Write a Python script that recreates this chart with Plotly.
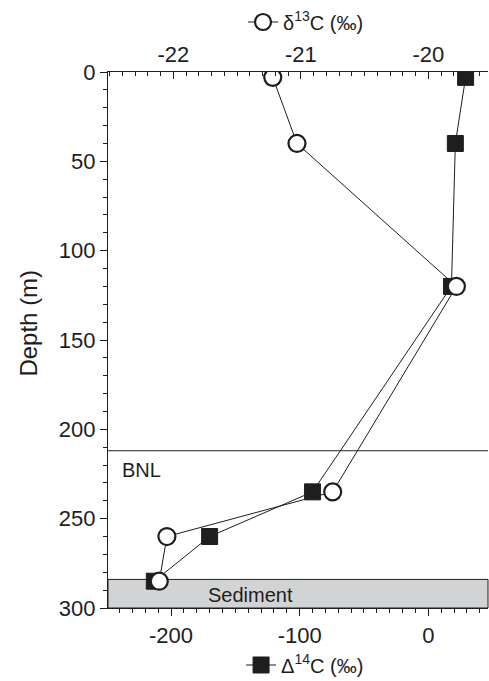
import plotly.graph_objects as go

# ---- data ----
depth_m = [3, 40, 120, 235, 260, 285]
d13C_permil = [-21.22, -21.03, -19.78, -20.75, -22.05, -22.11]
D14C_permil = [29, 21, 18, -90, -170, -213]

depth_ticks = [0, 50, 100, 150, 200, 250, 300]
depth_ticklabels = ["0", "50", "100", "150", "200", "250", "300"]
d14c_ticks = [-200, -100, 0]
d14c_ticklabels = ["-200", "-100", "0"]
d13c_ticks = [-22, -21, -20]
d13c_ticklabels = ["-22", "-21", "-20"]

bnl_depth = 212
sediment_top = 284
depth_range = [300, 0]
d14c_range = [-249, 46.4]
d13c_range = [-22.512, -19.532]

FONT = "Liberation Sans, Arial, sans-serif"
INK = "#1e1e1e"

fig = go.Figure()

fig.add_trace(go.Scatter(
    x=D14C_permil, y=depth_m, xaxis="x", yaxis="y",
    mode="lines+markers", name="Δ<sup>14</sup>C (‰)", legend="legend2", showlegend=True,
    line=dict(color=INK, width=1),
    marker=dict(symbol="square", size=16, color=INK, line=dict(color=INK, width=1)),
))

fig.add_trace(go.Scatter(
    x=d13C_permil, y=depth_m, xaxis="x2", yaxis="y",
    mode="lines+markers", name="δ<sup>13</sup>C (‰)", legend="legend", showlegend=True,
    line=dict(color=INK, width=1),
    marker=dict(symbol="circle", size=17, color="white", line=dict(color=INK, width=2.2)),
))

# BNL line and sediment band
fig.add_shape(type="line", xref="x domain", yref="y", x0=0, x1=1, y0=bnl_depth, y1=bnl_depth,
              line=dict(color=INK, width=1), layer="below")
fig.add_shape(type="rect", xref="x domain", yref="y", x0=0, x1=1, y0=sediment_top, y1=depth_range[0],
              fillcolor="#d2d3d5", line=dict(color=INK, width=1), layer="below")

fig.add_annotation(text="BNL", xref="paper", yref="y", x=0.032, y=222.5, xanchor="left",
                   yanchor="middle", showarrow=False, font=dict(family=FONT, size=20, color=INK))
fig.add_annotation(text="Sediment", xref="paper", yref="y", x=0.374, y=293, xanchor="center",
                   yanchor="middle", showarrow=False, font=dict(family=FONT, size=20, color=INK))
fig.add_annotation(text="Depth (m)", xref="paper", yref="paper", x=-0.21, y=0.531, textangle=-90,
                   xanchor="center", yanchor="middle", showarrow=False,
                   font=dict(family=FONT, size=24, color=INK))

fig.update_layout(
    width=489, height=681,
    margin=dict(l=108, r=1, t=72, b=73, autoexpand=False),
    paper_bgcolor="white", plot_bgcolor="white",
    showlegend=True,
    font=dict(family=FONT, size=22, color=INK),
    xaxis=dict(
        range=d14c_range, side="bottom", anchor="y",
        tickvals=d14c_ticks, ticktext=d14c_ticklabels,
        ticks="outside", ticklen=7, tickwidth=1.3, tickcolor=INK,
        minor=dict(dtick=10, tick0=0, ticks="outside", ticklen=4, tickwidth=1, tickcolor=INK),
        showline=True, linecolor=INK, linewidth=1.3, showgrid=False, zeroline=False,
        tickfont=dict(size=22),
    ),
    xaxis2=dict(
        range=d13c_range, side="top", overlaying="x", anchor="y",
        tickvals=d13c_ticks, ticktext=d13c_ticklabels,
        ticks="inside", ticklen=7, tickwidth=1.3, tickcolor=INK,
        minor=dict(dtick=0.1, tick0=0, ticks="inside", ticklen=4, tickwidth=1, tickcolor=INK),
        showline=True, linecolor=INK, linewidth=1.3, showgrid=False, zeroline=False,
        tickfont=dict(size=22),
    ),
    yaxis=dict(
        range=depth_range, anchor="x",
        tickvals=depth_ticks, ticktext=depth_ticklabels,
        ticks="outside", ticklen=7, tickwidth=1.3, tickcolor=INK,
        minor=dict(dtick=10, tick0=0, ticks="outside", ticklen=4, tickwidth=1, tickcolor=INK),
        showline=True, linecolor=INK, linewidth=1.3, showgrid=False, zeroline=False,
        tickfont=dict(size=22),
    ),
    yaxis2=dict(
        range=depth_range, overlaying="y", side="right", anchor="x",
        tickvals=depth_ticks, ticks="inside", ticklen=6, tickwidth=1.3,
        tickcolor=INK, showticklabels=False,
        minor=dict(dtick=10, tick0=0, ticks="inside", ticklen=3, tickwidth=1, tickcolor=INK),
        showline=True, linecolor=INK, linewidth=1.3, showgrid=False, zeroline=False,
    ),
    legend=dict(xref="container", yref="container", x=0.497, y=0.9677,
                xanchor="left", yanchor="middle", orientation="h",
                bgcolor="rgba(0,0,0,0)", font=dict(family=FONT, size=20, color=INK)),
    legend2=dict(xref="container", yref="container", x=0.493, y=0.0235,
                 xanchor="left", yanchor="middle", orientation="h",
                 bgcolor="rgba(0,0,0,0)", font=dict(family=FONT, size=20, color=INK)),
)

fig.write_html("out.html")
